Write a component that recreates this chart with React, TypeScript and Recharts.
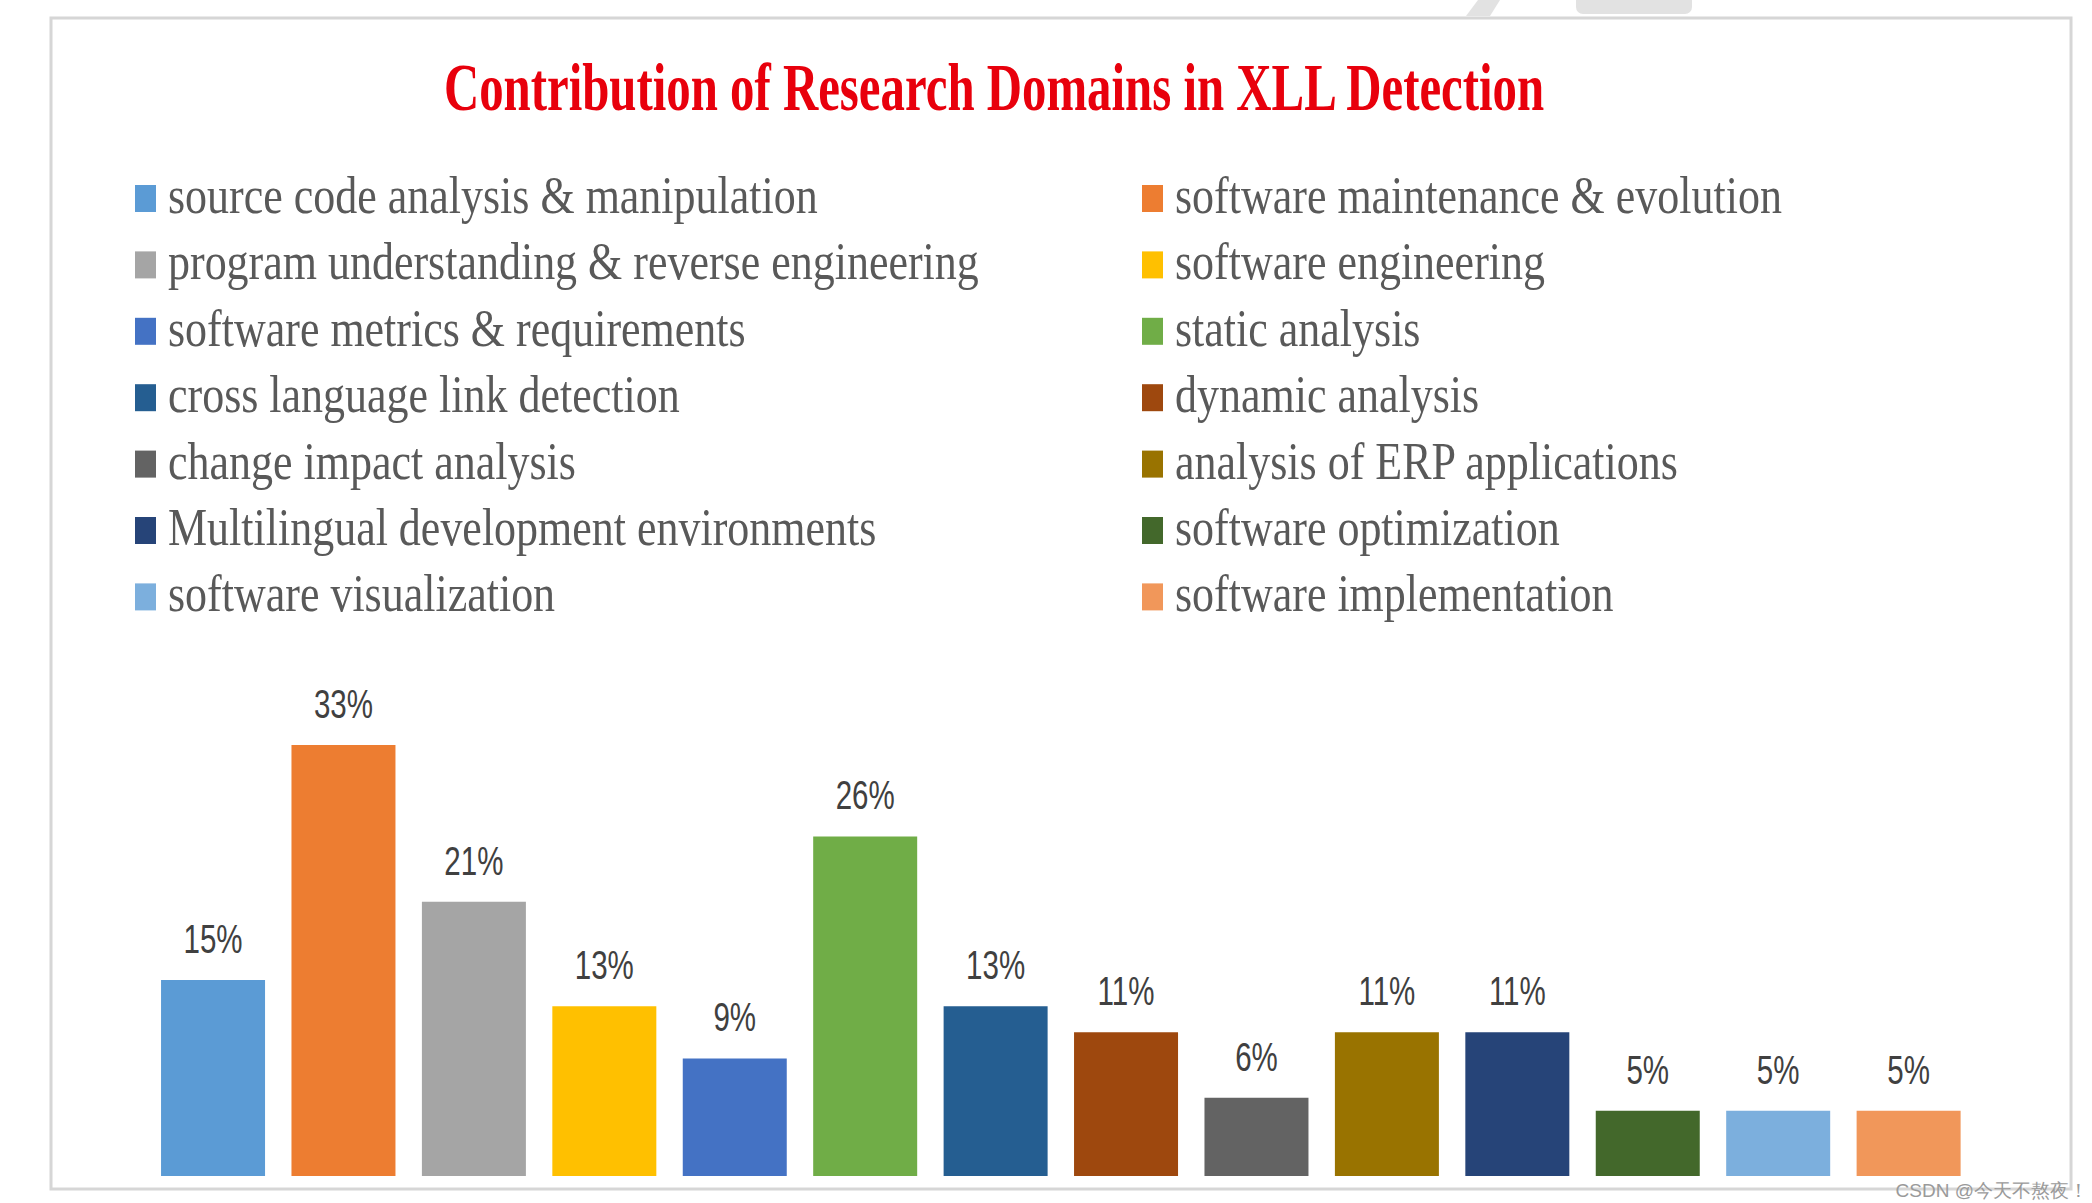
import React from 'react';
import { BarChart, Bar, XAxis, YAxis, Cell, LabelList, Legend } from 'recharts';

const chartTitle = 'Contribution of Research Domains in XLL Detection';

const categories = [
  'source code analysis & manipulation',
  'software maintenance & evolution',
  'program understanding & reverse engineering',
  'software engineering',
  'software metrics & requirements',
  'static analysis',
  'cross language link detection',
  'dynamic analysis',
  'change impact analysis',
  'analysis of ERP applications',
  'Multilingual development environments',
  'software optimization',
  'software visualization',
  'software implementation',
];

const values = [15, 33, 21, 13, 9, 26, 13, 11, 6, 11, 11, 5, 5, 5];

const colors = [
  '#5B9BD5',
  '#ED7D31',
  '#A5A5A5',
  '#FFC000',
  '#4472C4',
  '#70AD47',
  '#255E91',
  '#9E480E',
  '#636363',
  '#997300',
  '#264478',
  '#43682B',
  '#7CAFDD',
  '#F1975A',
];

const watermark = 'CSDN @今天不熬夜！';

const data = categories.map((name, i) => ({ name, value: values[i] }));

const W = 2092;
const H = 1203;

const serif = "'Liberation Serif', 'DejaVu Serif', serif";
const sans = "'Liberation Sans', Arial, sans-serif";

const LegendContent = () => (
  <svg width={W} height={H} style={{ display: 'block', pointerEvents: 'none' }}>
    {/* cut-off element at the very top */}
    <path d="M1466 16 L1478 0 L1500 0 L1490 16 Z" fill="#e2e2e2" />
    <rect x={1576} y={-6} width={116} height={20} rx={7} fill="#e2e2e2" />
    {/* frame */}
    <rect x={51} y={18} width={2020} height={1171} fill="none" stroke="#d6d6d6" strokeWidth={3} />
    {/* title */}
    <text
      transform="translate(994 110) scale(0.718 1)"
      textAnchor="middle"
      fontFamily={serif}
      fontWeight="bold"
      fontSize={68}
      fill="#e8000c"
    >
      {chartTitle}
    </text>
    {categories.map((c, i) => {
      const col = i % 2;
      const row = Math.floor(i / 2);
      const sx = col === 0 ? 135 : 1142;
      const base = 213 + row * 66.4;
      return (
        <g key={c}>
          <rect x={sx} y={base - 28} width={21} height={27} fill={colors[i]} />
          <text
            transform={`translate(${sx + 33} ${base}) scale(0.83 1)`}
            fontFamily={serif}
            fontSize={53}
            fill="#595959"
          >
            {c}
          </text>
        </g>
      );
    })}
    <text x={2088} y={1197} textAnchor="end" fontFamily={sans} fontSize={19} fill="#9a9a9a">
      {watermark}
    </text>
  </svg>
);

const renderLabel = (props: any) => {
  const x = Number(props.x);
  const y = Number(props.y);
  const width = Number(props.width);
  const cx = x + width / 2;
  return (
    <text
      transform={`translate(${cx} ${y - 27}) scale(0.72 1)`}
      textAnchor="middle"
      fontFamily={sans}
      fontSize={41}
      fill="#404040"
    >
      {`${props.value}%`}
    </text>
  );
};

export default function App() {
  return (
    <div
      style={{
        position: 'absolute',
        left: 0,
        top: 0,
        width: W,
        height: H,
        background: '#ffffff',
        overflow: 'hidden',
      }}
    >
      <BarChart
        width={W}
        height={H}
        data={data}
        margin={{ top: 745, right: 118, bottom: 27, left: 148 }}
        barCategoryGap="10%"
      >
        <XAxis dataKey="name" hide />
        <YAxis hide domain={[0, 'dataMax']} />
        <Legend
          layout="horizontal"
          verticalAlign="middle"
          align="center"
          content={<LegendContent />}
          wrapperStyle={{ position: 'absolute', left: 0, top: 0, width: W, height: H, margin: 0, padding: 0 }}
        />
        <Bar dataKey="value" isAnimationActive={false}>
          {data.map((d, i) => (
            <Cell key={d.name} fill={colors[i]} />
          ))}
          <LabelList dataKey="value" content={renderLabel} />
        </Bar>
      </BarChart>
    </div>
  );
}
